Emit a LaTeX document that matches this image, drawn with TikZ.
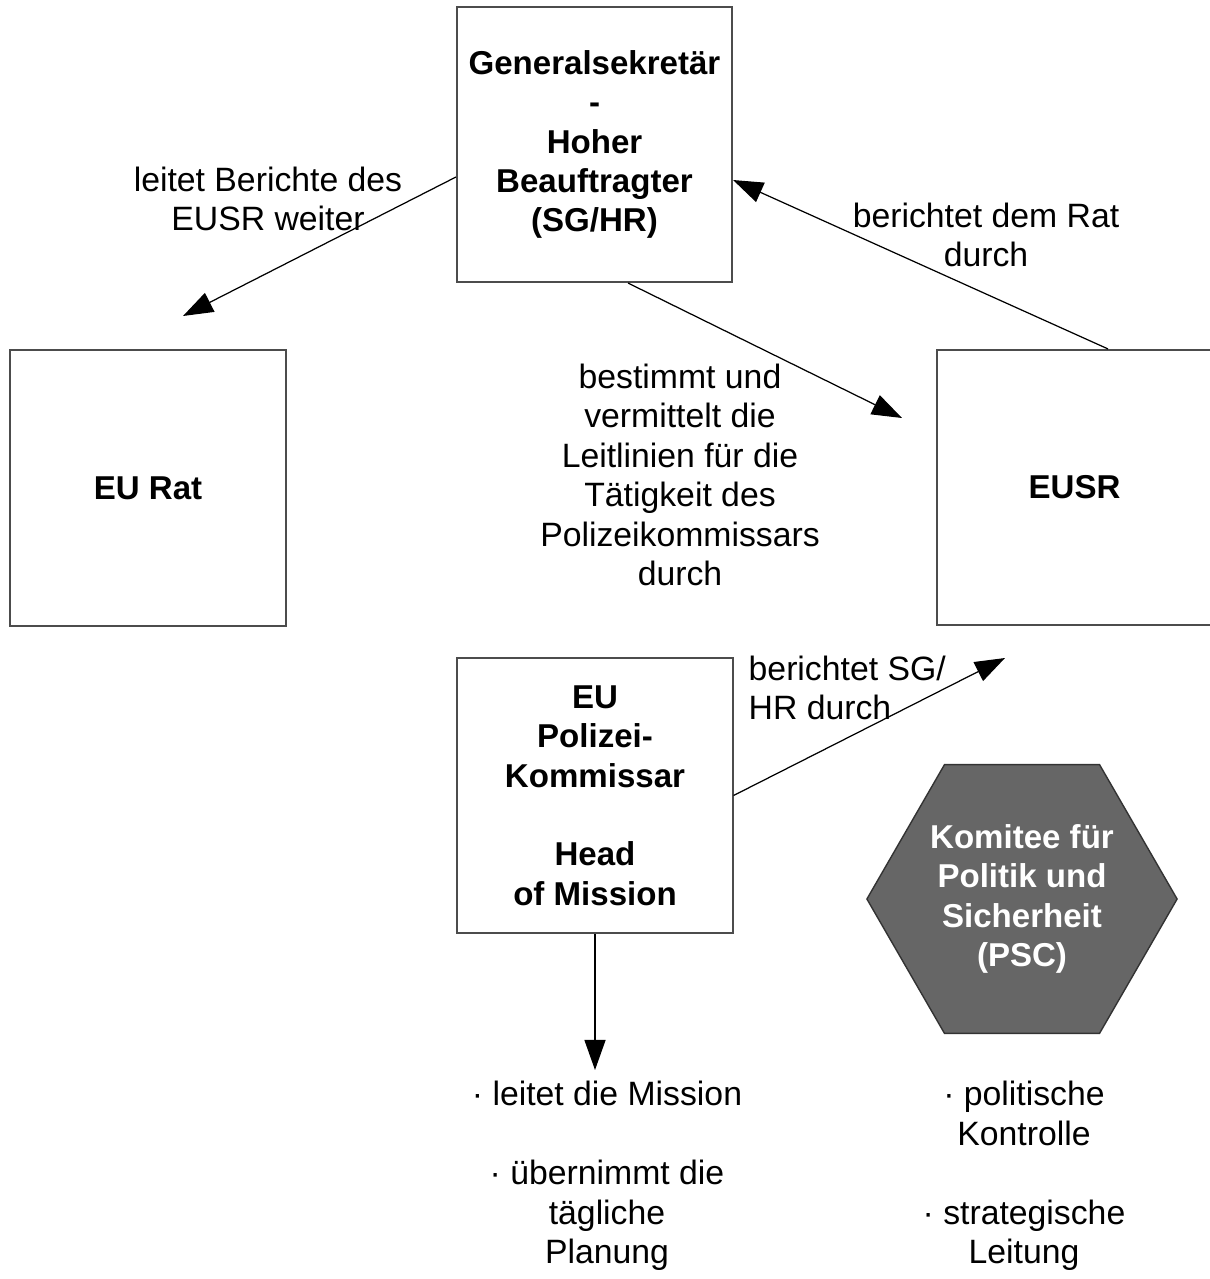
\documentclass[tikz,border=0pt]{standalone}
\usepackage{fontspec}
\setmainfont{Liberation Sans}
\usetikzlibrary{arrows.meta,shapes.geometric}
\newcommand{\txtsize}[0]{\fontsize{9.6}{11.2}\selectfont}
\newcommand{\boldsize}[0]{\fontsize{9.4}{11.2}\selectfont\bfseries}
\tikzset{
  box/.style={draw=black!70, line width=0.55pt, minimum width=2.75cm, minimum height=2.75cm, inner sep=0pt, align=center, font=\boldsize},
  lbl/.style={inner sep=0pt, align=center, font=\txtsize},
  arr/.style={line width=0.35pt, -{Triangle[length=0.3cm,width=0.21cm]}}
}

\begin{document}
\begin{tikzpicture}[x=0.01cm,y=-0.01cm]
\useasboundingbox (0,0) rectangle (1209,1279);
\node[box] (sghr) at (594.5,144.5) {Generalsekretär\\-\\Hoher\\Beauftragter\\(SG/HR)};
\node[box] (eurat) at (148,488) {EU Rat};
\node[box] (eusr) at (1074.5,487.5) {EUSR};
\node[box] (pk) at (595,795.5) {EU\\Polizei-\\Kommissar\\[11.2pt]Head\\of Mission};
\node[regular polygon, regular polygon sides=6, minimum size=3.1cm, inner sep=0pt, fill=black!60, draw=black!80, line width=0.4pt, text=white, align=center, font=\boldsize] (psc) at (1022,899) {Komitee für\\Politik und\\Sicherheit\\(PSC)};

\node[lbl] (weiter) at (268,199) {leitet Berichte des\\EUSR weiter};
\node[lbl] (demrat) at (986,235) {berichtet dem Rat\\durch};
\node[lbl] (leitlinien) at (680,475) {bestimmt und\\vermittelt die\\Leitlinien für die\\Tätigkeit des\\Polizeikommissars\\durch};
\node[lbl, align=left, anchor=west] (sgdurch) at (748,688) {berichtet SG/\\HR durch};
\node[lbl] (mission) at (607,1176) {· leitet die Mission\\[11.2pt]· übernimmt die\\tägliche\\Planung};
\node[lbl] (kontrolle) at (1024,1176) {· politische\\Kontrolle\\[11.2pt]· strategische\\Leitung};

\coordinate (tiprat) at (183,316);
\coordinate (tipeusr) at (902,418);
\coordinate (tipsg) at (1005,658);
\coordinate (tipdown) at (595,1070);

\draw[arr] ([yshift=-0.325cm]sghr.west) -- (tiprat);
\draw[arr] ([xshift=0.335cm]eusr.north) -- ([yshift=-0.355cm]sghr.east);
\draw[arr] ([xshift=0.335cm]sghr.south) -- (tipeusr);
\draw[arr] (pk.east) -- (tipsg);
\draw[arr] (pk.south) -- (tipdown);
\end{tikzpicture}
\end{document}
